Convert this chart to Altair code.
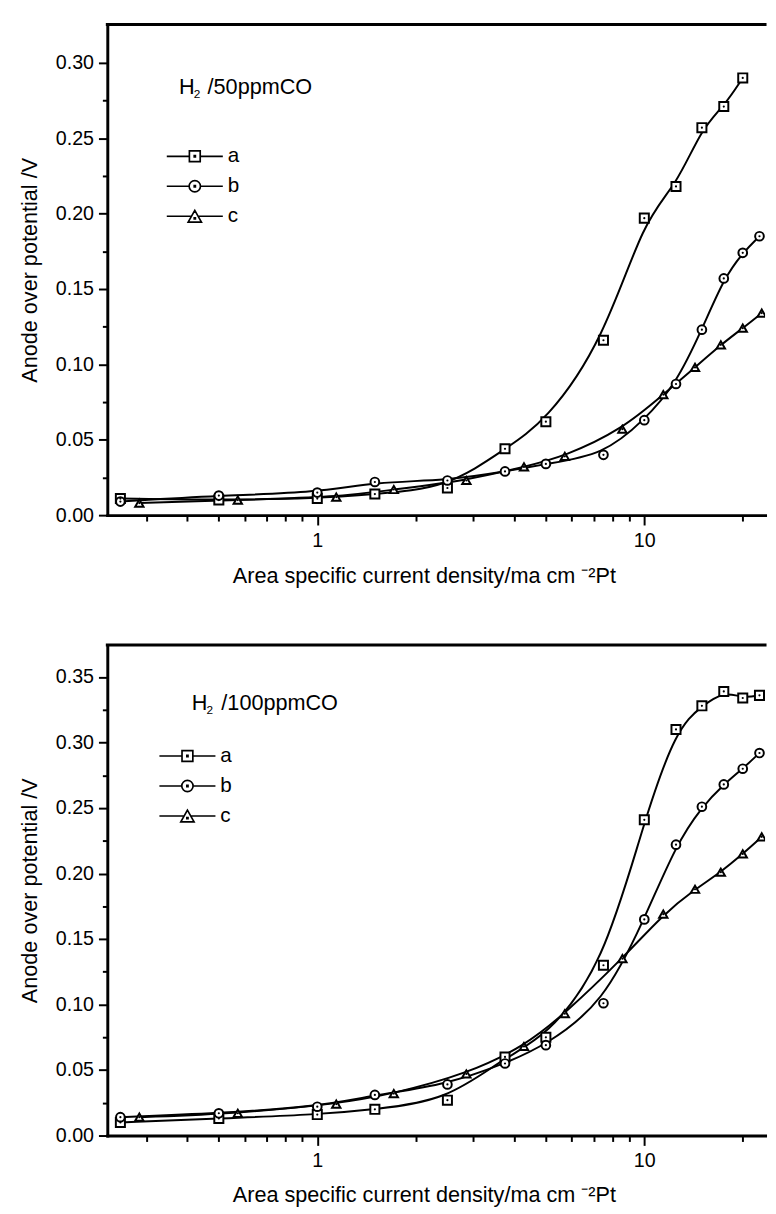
import altair as alt
import pandas as pd

FONT = "Liberation Sans"

# ---------------- data ----------------
series = ["a", "b", "c"]
x_ab = [0.25, 0.5, 1, 1.5, 2.5, 3.75, 5, 7.5, 10, 12.5, 15, 17.5, 20, 22.5]
x_c = [0.2857, 0.5714, 1.143, 1.714, 2.857, 4.286, 5.714, 8.571, 11.43, 14.29, 17.14, 20.0, 22.86]

# H2 / 50 ppm CO
co50_a = [0.011, 0.010, 0.011, 0.014, 0.018, 0.044, 0.062, 0.116, 0.197, 0.218, 0.257, 0.271, 0.290]
co50_b = [0.009, 0.013, 0.015, 0.022, 0.023, 0.029, 0.034, 0.040, 0.063, 0.087, 0.123, 0.157, 0.174, 0.185]
co50_c = [0.008, 0.010, 0.012, 0.017, 0.023, 0.032, 0.039, 0.057, 0.080, 0.098, 0.113, 0.124, 0.134]

# H2 / 100 ppm CO
co100_a = [0.010, 0.013, 0.016, 0.020, 0.027, 0.060, 0.075, 0.130, 0.241, 0.310, 0.328, 0.339, 0.334, 0.336]
co100_b = [0.014, 0.017, 0.022, 0.031, 0.039, 0.055, 0.069, 0.101, 0.165, 0.222, 0.251, 0.268, 0.280, 0.292]
co100_c = [0.014, 0.017, 0.024, 0.032, 0.047, 0.068, 0.093, 0.135, 0.169, 0.188, 0.201, 0.215, 0.228]

# axis ticks
x_ticks = [0.3, 0.4, 0.5, 0.6, 0.7, 0.8, 0.9, 1, 2, 3, 4, 5, 6, 7, 8, 9, 10, 20]
y_ticks_50 = [0.0, 0.025, 0.05, 0.075, 0.1, 0.125, 0.15, 0.175, 0.2, 0.225, 0.25, 0.275, 0.3]
y_ticks_100 = [0.0, 0.025, 0.05, 0.075, 0.1, 0.125, 0.15, 0.175, 0.2, 0.225, 0.25, 0.275, 0.3, 0.325, 0.35]

x_title = "Area specific current density/ma cm \u207b\u00b2Pt"
y_title = "Anode over potential /V"

# ---------------- layout ----------------
W = 669
H = 499
X_DOMAIN = [0.228, 23.4]


def long_table(a, b, c):
    rows = []
    for s, xs, ys in (("a", x_ab, a), ("b", x_ab, b), ("c", x_c, c)):
        for xv, yv in zip(xs, ys):
            rows.append({"x": xv, "y": yv, "series": s})
    return pd.DataFrame(rows)


legend_paths = [
    "M-5.7,0H-1.1M1.1,0H5.7M-1.1,-1.1H1.1V1.1H-1.1ZM-0.12,-0.12H0.12V0.12H-0.12Z",
    "M-5.7,0H-1.15M1.15,0H5.7M1.15,0A1.15,1.15,0,1,1,-1.15,0A1.15,1.15,0,1,1,1.15,0ZM-0.12,-0.12H0.12V0.12H-0.12Z",
    "M-5.7,0H-0.68M0.68,0H5.7M0,-1.2L-1.35,1.2L1.35,1.2ZM-0.12,0.3H0.12V0.54H-0.12Z",
]

major_x_test = "datum.value == 1 || datum.value == 10"
major_y_test = "abs(datum.value * 20 - round(datum.value * 20)) < 0.001"


def panel(df, ymax, yticks, label, sub_x, label_x, text_y, leg_x, leg_y, x_title_pad):
    x_enc = alt.X(
        "x:Q",
        scale=alt.Scale(type="log", domain=X_DOMAIN, nice=False),
        axis=alt.Axis(
            values=x_ticks,
            labelExpr=f"({major_x_test}) ? datum.label : ''",
            format="~g",
            tickSize={"condition": {"test": major_x_test, "value": 10}, "value": 6},
            labelPadding=6,
            labelOverlap=False,
            labelFlush=False,
            title=x_title,
            titlePadding=x_title_pad,
            titleX=322,
            titleAlign="center",
        ),
    )
    y_enc = alt.Y(
        "y:Q",
        scale=alt.Scale(domain=[0, ymax], nice=False, zero=True),
        axis=alt.Axis(
            values=yticks,
            labelExpr=f"({major_y_test}) ? format(datum.value, '.2f') : ''",
            tickSize={"condition": {"test": major_y_test, "value": 9}, "value": 5},
            labelPadding=5,
            labelOverlap=False,
            labelFlush=False,
            title=y_title,
            titlePadding=14,
        ),
    )

    base = alt.Chart(df)
    lines = base.mark_line(
        interpolate="basis", color="black", strokeWidth=2, clip=True
    ).encode(x=x_enc, y=y_enc, detail="series:N")

    markers = base.mark_point(
        filled=True, fill="white", stroke="black", strokeWidth=2, opacity=1, clip=True
    ).encode(
        x=x_enc,
        y=y_enc,
        shape=alt.Shape(
            "series:N",
            scale=alt.Scale(domain=series, range=["square", "circle", "triangle-up"]),
            legend=None,
        ),
        size=alt.Size(
            "series:N",
            scale=alt.Scale(domain=series, range=[85, 72, 125]),
            legend=None,
        ),
    )

    dots = base.mark_circle(size=5, color="black", opacity=1, clip=True).encode(x=x_enc, y=y_enc)

    legend_layer = (
        base.transform_filter("false")
        .mark_point(filled=False, color="black", strokeWidth=1.7, opacity=1)
        .encode(
            x=x_enc,
            y=y_enc,
            shape=alt.Shape(
                "series:N",
                scale=alt.Scale(domain=series, range=legend_paths),
                legend=alt.Legend(
                    orient="none",
                    legendX=leg_x,
                    legendY=leg_y,
                    title=None,
                    symbolSize=100,
                    symbolStrokeWidth=1.7,
                    symbolStrokeColor="black",
                    symbolFillColor="white",
                    symbolOpacity=1,
                    labelFontSize=21,
                    labelFont=FONT,
                    labelColor="black",
                    labelOffset=23,
                    rowPadding=8.5,
                    padding=0,
                ),
            ),
        )
    )

    one = pd.DataFrame({"k": [0]})
    frame_top = alt.Chart(one).mark_rule(color="black", strokeWidth=3, strokeCap="square").encode(
        x=alt.value(0), x2=alt.value(W), y=alt.value(0)
    )
    t_h = alt.Chart(one).mark_text(
        text="H", align="left", baseline="alphabetic", fontSize=22, font=FONT, color="black"
    ).encode(x=alt.value(label_x[0]), y=alt.value(text_y))
    t_2 = alt.Chart(one).mark_text(
        text="2", align="left", baseline="alphabetic", fontSize=12, font=FONT, color="black"
    ).encode(x=alt.value(sub_x), y=alt.value(text_y + 4))
    t_rest = alt.Chart(one).mark_text(
        text=label, align="left", baseline="alphabetic", fontSize=22, font=FONT, color="black"
    ).encode(x=alt.value(label_x[1]), y=alt.value(text_y))

    return (
        alt.layer(lines, markers, dots, legend_layer, frame_top, t_h, t_2, t_rest)
        .resolve_scale(shape="independent", size="independent")
        .properties(width=W, height=H)
    )


p1 = panel(long_table(co50_a, co50_b, co50_c), 0.3254, y_ticks_50, "/50ppmCO",
           sub_x=88, label_x=(73, 102), text_y=71, leg_x=78.5, leg_y=123.5, x_title_pad=16)
p2 = panel(long_table(co100_a, co100_b, co100_c), 0.3745, y_ticks_100, "/100ppmCO",
           sub_x=101, label_x=(86, 116), text_y=66, leg_x=71, leg_y=102.5, x_title_pad=14)

chart = (
    alt.vconcat(p1, p2, spacing=56)
    .properties(padding={"left": 11, "top": 3.5, "right": 0, "bottom": 0})
    .configure_view(stroke=None)
    .configure_axis(
        labelFont=FONT,
        labelFontSize=20,
        labelColor="black",
        titleFont=FONT,
        titleFontSize=22,
        titleFontWeight="normal",
        titleColor="black",
        domainColor="black",
        domainWidth=3,
        domainCap="square",
        tickColor="black",
        tickWidth=2,
        grid=False,
    )
)

chart.save("out.html", embed_options={"renderer": "svg", "actions": False})
